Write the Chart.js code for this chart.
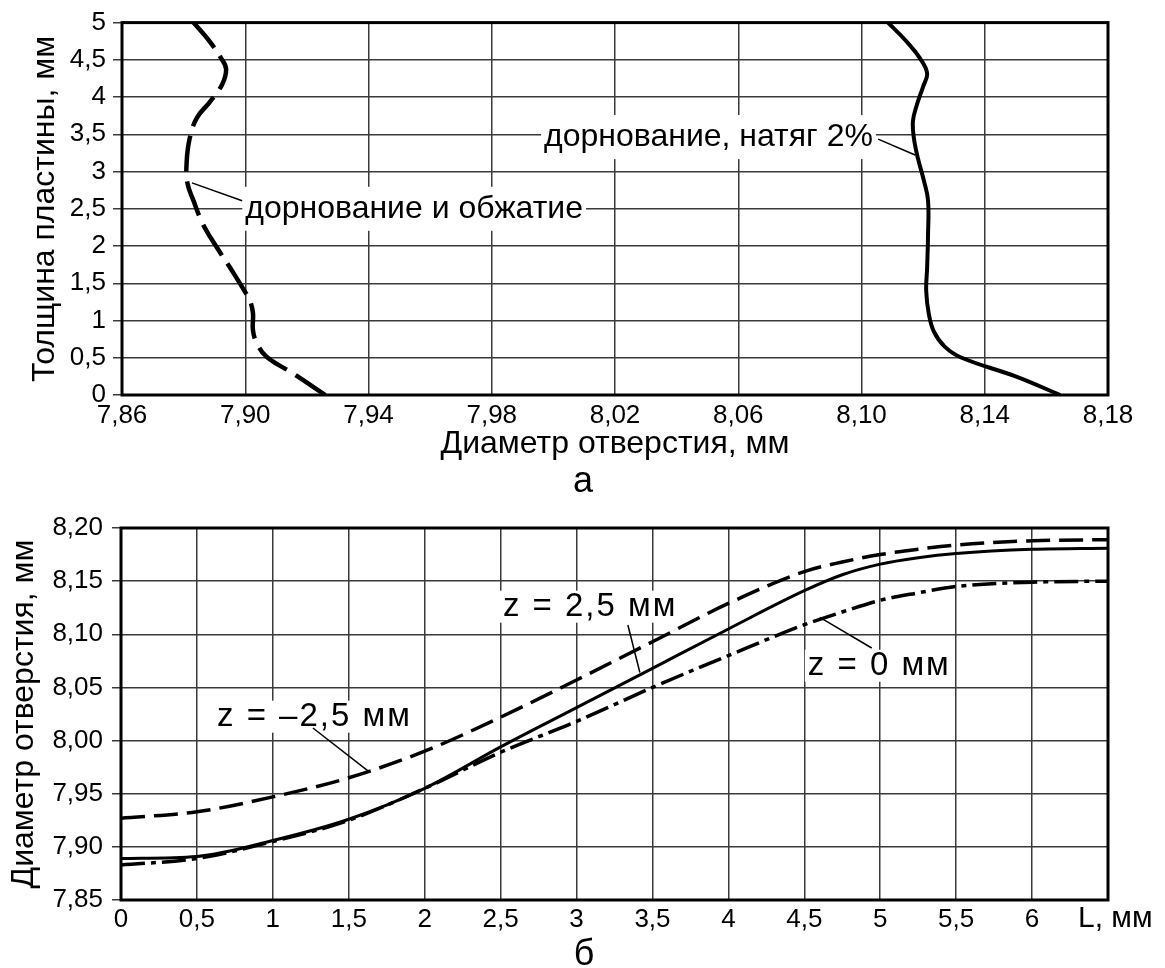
<!DOCTYPE html>
<html lang="ru">
<head>
<meta charset="utf-8">
<title>Диаметр отверстия и толщина пластины</title>
<script src="https://cdn.jsdelivr.net/npm/chart.js"></script>
<style>
  html, body { margin: 0; padding: 0; background: #fff; }
  body { width: 1165px; height: 968px; position: relative; overflow: hidden;
         font-family: 'Liberation Sans', Arial, Helvetica, sans-serif; color: #000; }
  canvas { position: absolute; left: 0; display: block; }
  #chartA { top: 0; }
  #chartB { top: 490px; }
  .cap { position: absolute; width: 100px; text-align: center; font-size: 36px; line-height: 36px; }
</style>
</head>
<body>
<canvas id="chartA" width="1165" height="500"></canvas>
<canvas id="chartB" width="1165" height="450"></canvas>
<div class="cap" style="left:533px; top:462px;">а</div>
<div class="cap" style="left:534px; top:935px;">б</div>

<script>
// ---- Figure а: bore diameter across the plate thickness ----
const diamTicksA = [7.86, 7.90, 7.94, 7.98, 8.02, 8.06, 8.10, 8.14, 8.18];
const thickTicksA = [0, 0.5, 1, 1.5, 2, 2.5, 3, 3.5, 4, 4.5, 5];

// mandrelling + compression (dashed)
const thickPress = [0, 0.29, 0.51, 0.69, 0.87, 1.10, 1.27, 1.38, 1.63, 1.98, 2.30, 2.61, 2.85, 3.14, 3.45, 3.72, 3.94, 4.17, 4.37, 4.50, 4.77, 5];
const diamPress  = [7.926, 7.9155, 7.907, 7.9038, 7.9025, 7.9025, 7.9015, 7.9, 7.8963, 7.8908, 7.8862, 7.8832, 7.8812, 7.881, 7.882, 7.8843, 7.8886, 7.8925, 7.8938, 7.8925, 7.888, 7.8832];

// mandrelling, 2 % interference (solid)
const thickMandrel = [0, 0.25, 0.5, 0.65, 0.85, 1.10, 1.40, 1.71, 2.16, 2.61, 2.87, 3.18, 3.45, 3.68, 3.90, 4.14, 4.32, 4.52, 4.77, 5];
const diamMandrel  = [8.1645, 8.150, 8.1325, 8.127, 8.1235, 8.1218, 8.121, 8.1213, 8.1216, 8.1216, 8.1203, 8.1183, 8.117, 8.1167, 8.118, 8.12, 8.1213, 8.119, 8.1141, 8.1086];

// ---- Figure б: bore diameter along the length L ----
const lengthTicksB = [0, 0.5, 1, 1.5, 2, 2.5, 3, 3.5, 4, 4.5, 5, 5.5, 6];
const diamTicksB = [7.85, 7.90, 7.95, 8.00, 8.05, 8.10, 8.15, 8.20];
const lengthL   = [0, 0.5, 1, 1.5, 2, 2.5, 3, 3.5, 4, 4.5, 4.75, 5, 5.25, 5.5, 6, 6.5];
const diamZneg  = [7.927, 7.933, 7.947, 7.965, 7.990, 8.022, 8.057, 8.093, 8.129, 8.159, 8.168, 8.175, 8.180, 8.184, 8.188, 8.189];
const diamZpos  = [7.889, 7.891, 7.906, 7.926, 7.955, 7.994, 8.031, 8.068, 8.105, 8.141, 8.156, 8.166, 8.172, 8.176, 8.180, 8.181];
const diamZzero = [7.883, 7.889, 7.905, 7.925, 7.955, 7.989, 8.018, 8.050, 8.080, 8.109, 8.121, 8.132, 8.139, 8.145, 8.149, 8.150];

const FONT = "'Liberation Sans', Arial, Helvetica, sans-serif";
Chart.defaults.font.family = FONT;
Chart.defaults.color = '#000';

const fmt = (v, digits) => (digits == null ? String(v) : v.toFixed(digits)).replace('.', ',');
const pairs = (xs, ys) => xs.map((x, i) => ({ x, y: ys[i] }));
const GRID = '#3a3a3a';

// thick frame around the plot area
const framePlugin = {
  id: 'frame',
  beforeDatasetsDraw(chart) {
    const { ctx, chartArea: a } = chart;
    ctx.save();
    ctx.strokeStyle = '#000';
    ctx.lineWidth = 3;
    ctx.strokeRect(a.left, a.top, a.right - a.left, a.bottom - a.top);
    ctx.restore();
  }
};

// curve captions with leader lines, anchored in data units
function notesPlugin(items, size, boxH, spacing) {
  return {
    id: 'notes',
    beforeDatasetsDraw(chart) {
      const { ctx, scales: { x, y } } = chart;
      ctx.save();
      ctx.font = size + 'px ' + FONT;
      if ('letterSpacing' in ctx) ctx.letterSpacing = spacing + 'px';
      ctx.textBaseline = 'middle';
      ctx.textAlign = 'left';
      items.forEach(n => {
        const w = ctx.measureText(n.text).width;
        const px = x.getPixelForValue(n.at[0]);
        const py = y.getPixelForValue(n.at[1]);
        const left = n.align === 'right' ? px - w : px;
        ctx.fillStyle = '#fff';
        ctx.fillRect(left - 3, py - boxH / 2, w + 6, boxH);
        ctx.fillStyle = '#000';
        ctx.fillText(n.text, left, py);
        ctx.strokeStyle = '#000';
        ctx.lineWidth = 1.5;
        ctx.beginPath();
        ctx.moveTo(x.getPixelForValue(n.lead[0]), y.getPixelForValue(n.lead[1]));
        ctx.lineTo(x.getPixelForValue(n.lead[2]), y.getPixelForValue(n.lead[3]));
        ctx.stroke();
      });
      ctx.restore();
    }
  };
}

// axis unit written after the last tick of the L axis
const unitLabelPlugin = {
  id: 'unitLabel',
  afterDraw(chart) {
    const { ctx, chartArea: a } = chart;
    ctx.save();
    ctx.font = '30px ' + FONT;
    ctx.fillStyle = '#000';
    ctx.textAlign = 'left';
    ctx.textBaseline = 'middle';
    ctx.fillText('L, мм', a.right - 30, a.bottom + 19);
    ctx.restore();
  }
};

const setTicks = values => scale => { scale.ticks = values.map(v => ({ value: v })); };

// ---------- chart а ----------
new Chart(document.getElementById('chartA'), {
  type: 'line',
  data: {
    datasets: [
      {
        label: 'дорнование и обжатие',
        data: pairs(diamPress, thickPress),
        borderColor: '#000', borderWidth: 4.5, borderDash: [36, 10],
        tension: 0.4, pointRadius: 0, fill: false
      },
      {
        label: 'дорнование, натяг 2%',
        data: pairs(diamMandrel, thickMandrel),
        borderColor: '#000', borderWidth: 4,
        tension: 0.4, pointRadius: 0, fill: false
      }
    ]
  },
  options: {
    responsive: false,
    animation: false,
    layout: { padding: { left: 0, top: 21, right: 57, bottom: 0 } },
    plugins: { legend: { display: false }, tooltip: { enabled: false } },
    scales: {
      x: {
        type: 'linear', min: 7.86, max: 8.18,
        afterBuildTicks: setTicks(diamTicksA),
        afterFit: s => { s.height = 105; },
        ticks: { callback: v => fmt(v, 2), font: { size: 26 }, padding: 5, maxRotation: 0, autoSkip: false },
        grid: { color: GRID, lineWidth: 1.5, drawTicks: false },
        border: { display: false },
        title: { display: true, text: 'Диаметр отверстия, мм', font: { size: 32 }, padding: { top: 0, bottom: 37 } }
      },
      y: {
        type: 'linear', min: 0, max: 5,
        afterBuildTicks: setTicks(thickTicksA),
        afterFit: s => { s.width = 122; },
        ticks: { callback: v => fmt(v), font: { size: 26 }, padding: 7, autoSkip: false },
        grid: { color: GRID, lineWidth: 1.5, tickLength: 9 },
        border: { display: false },
        title: { display: true, text: 'Толщина пластины, мм', font: { size: 32 }, padding: { top: 25.5, bottom: 0 } }
      }
    }
  },
  plugins: [
    framePlugin,
    notesPlugin([
      { text: 'дорнование и обжатие', at: [7.900, 2.5], align: 'left', lead: [7.8827, 2.848, 7.899, 2.607] },
      { text: 'дорнование, натяг 2%', at: [8.1037, 3.463], align: 'right', lead: [8.1054, 3.436, 8.1174, 3.222] }
    ], 32, 44, 0)
  ]
});

// ---------- chart б ----------
new Chart(document.getElementById('chartB'), {
  type: 'line',
  data: {
    datasets: [
      {
        label: 'z = –2,5 мм',
        data: pairs(lengthL, diamZneg),
        borderColor: '#000', borderWidth: 3.5, borderDash: [24, 9],
        cubicInterpolationMode: 'monotone', pointRadius: 0, fill: false
      },
      {
        label: 'z = 0 мм',
        data: pairs(lengthL, diamZzero),
        borderColor: '#000', borderWidth: 3.5, borderDash: [24, 6, 5, 6],
        cubicInterpolationMode: 'monotone', pointRadius: 0, fill: false
      },
      {
        label: 'z = 2,5 мм',
        data: pairs(lengthL, diamZpos),
        borderColor: '#000', borderWidth: 3,
        cubicInterpolationMode: 'monotone', pointRadius: 0, fill: false
      }
    ]
  },
  options: {
    responsive: false,
    animation: false,
    layout: { padding: { left: 0, top: 38, right: 57, bottom: 0 } },
    plugins: { legend: { display: false }, tooltip: { enabled: false } },
    scales: {
      x: {
        type: 'linear', min: 0, max: 6.5,
        afterBuildTicks: setTicks(lengthTicksB),
        afterFit: s => { s.height = 40; },
        ticks: { callback: v => fmt(v), font: { size: 26 }, padding: 4, maxRotation: 0, autoSkip: false },
        grid: { color: GRID, lineWidth: 1.5, drawTicks: false },
        border: { display: false }
      },
      y: {
        type: 'linear', min: 7.85, max: 8.20,
        afterBuildTicks: setTicks(diamTicksB),
        afterFit: s => { s.width = 121; },
        ticks: { callback: v => fmt(v, 2), font: { size: 26 }, padding: 9, autoSkip: false },
        grid: { color: GRID, lineWidth: 1.5, tickLength: 9 },
        border: { display: false },
        title: { display: true, text: 'Диаметр отверстия, мм', font: { size: 32 }, padding: { top: 5, bottom: 0 } }
      }
    }
  },
  plugins: [
    framePlugin,
    notesPlugin([
      { text: 'z = –2,5 мм', at: [0.632, 8.0225], align: 'left', lead: [1.264, 8.0118, 1.639, 7.970] },
      { text: 'z = 2,5 мм', at: [2.515, 8.126], align: 'left', lead: [3.338, 8.1087, 3.417, 8.0640] },
      { text: 'z = 0 мм', at: [4.523, 8.0704], align: 'left', lead: [4.944, 8.0871, 4.602, 8.1160] }
    ], 33, 32, 2),
    unitLabelPlugin
  ]
});
</script>
</body>
</html>
